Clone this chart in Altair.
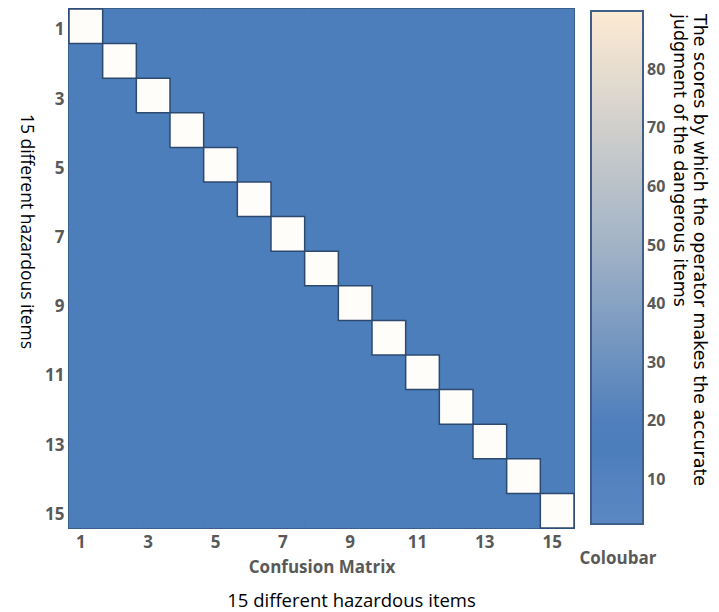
import altair as alt
import pandas as pd

# ---- data ----
items = list(range(1, 16))                 # 15 hazardous items
diag_scores = [88] * 15                    # correct judgement score on diagonal
off_score = 15                             # score for every off-diagonal cell
tick_vals = [1, 3, 5, 7, 9, 11, 13, 15]
legend_vals = [10, 20, 30, 40, 50, 60, 70, 80]
color_domain = [2.5, 18, 50, 90]
color_range = ["#5b88c2", "#4a7cbb", "#a2b3c6", "#fdebd2"]
cbar_title = ["The scores by which the operator makes the accurate",
              "judgment of the dangerous items"]

rows = []
for r in items:
    for c in items:
        rows.append({"row": r, "col": c,
                     "score": diag_scores[r - 1] if r == c else off_score})
df = pd.DataFrame(rows)

FONT = "Open Sans"
GREY = "#595959"

x_enc = alt.X("col:O", axis=alt.Axis(values=tick_vals, labelAngle=0, ticks=False,
                                     domain=False, grid=False, labelPadding=6,
                                     labelOffset=-5,
                                     labelFontSize=17, labelFont=FONT,
                                     labelFontWeight="bold", labelColor=GREY,
                                     title="Confusion Matrix", titleFontSize=17,
                                     titleFont=FONT, titleFontWeight="bold",
                                     titleColor=GREY, titlePadding=9))
y_enc = alt.Y("row:O", axis=alt.Axis(values=tick_vals, ticks=False, domain=False,
                                     grid=False, labelPadding=5, labelOffset=4,
                                     labelFontSize=17,
                                     labelFont=FONT, labelFontWeight="bold",
                                     labelColor=GREY,
                                     title="15 different hazardous items",
                                     titleAngle=90, titleY=222,
                                     titleFontSize=17.5,
                                     titleFont=FONT, titleFontWeight="normal",
                                     titleColor="black", titlePadding=28))

base = alt.Chart(df)
one = alt.Chart(alt.Data(values=[{}]))

heat = base.mark_rect().encode(
    x=x_enc,
    y=y_enc,
    color=alt.Color(
        "score:Q",
        scale=alt.Scale(domain=color_domain, range=color_range, clamp=True,
                        interpolate="rgb"),
        legend=alt.Legend(
            orient="none", legendX=522, legendY=2, direction="vertical",
            gradientLength=513, gradientThickness=52,
            gradientStrokeColor="#3d5f8a", gradientStrokeWidth=2,
            values=legend_vals, labelFontSize=16, labelFont=FONT,
            labelFontWeight="bold", labelColor=GREY, labelOffset=4,
            title=None, padding=0, offset=0,
        ),
    ),
)

diag = base.transform_filter("datum.row == datum.col").mark_rect(
    fill="white", fillOpacity=0.88, stroke="#2c4a70", strokeWidth=1.5
).encode(x="col:O", y="row:O")

cbar_label = one.mark_text(font=FONT, fontSize=17, color=GREY,
                           fontWeight="bold").encode(
    x=alt.value(549), y=alt.value(550), text=alt.value("Coloubar"))

title_line1 = one.mark_text(font="DejaVu Sans", fontSize=17.5, color="black",
                            angle=90, align="left", baseline="middle").encode(
    x=alt.value(630), y=alt.value(5), text=alt.value(cbar_title[0]))
title_line2 = one.mark_text(font="DejaVu Sans", fontSize=17.5, color="black",
                            angle=90, align="left", baseline="middle").encode(
    x=alt.value(610), y=alt.value(5), text=alt.value(cbar_title[1]))

chart = (
    alt.layer(heat, diag, cbar_label, title_line1, title_line2)
    .properties(
        width=505, height=519,
        padding={"left": 9, "top": 0, "right": 2, "bottom": 0},
        title=alt.TitleParams("15 different hazardous items", orient="bottom",
                              anchor="middle", fontSize=18.5, font=FONT,
                              fontWeight="normal", color="black", offset=17,
                              dx=30),
    )
    .configure_view(stroke="#3a5f8c", strokeWidth=2, fill="#4a7cbb")
)

chart.save("out.html", embed_options={"renderer": "svg", "actions": False})
